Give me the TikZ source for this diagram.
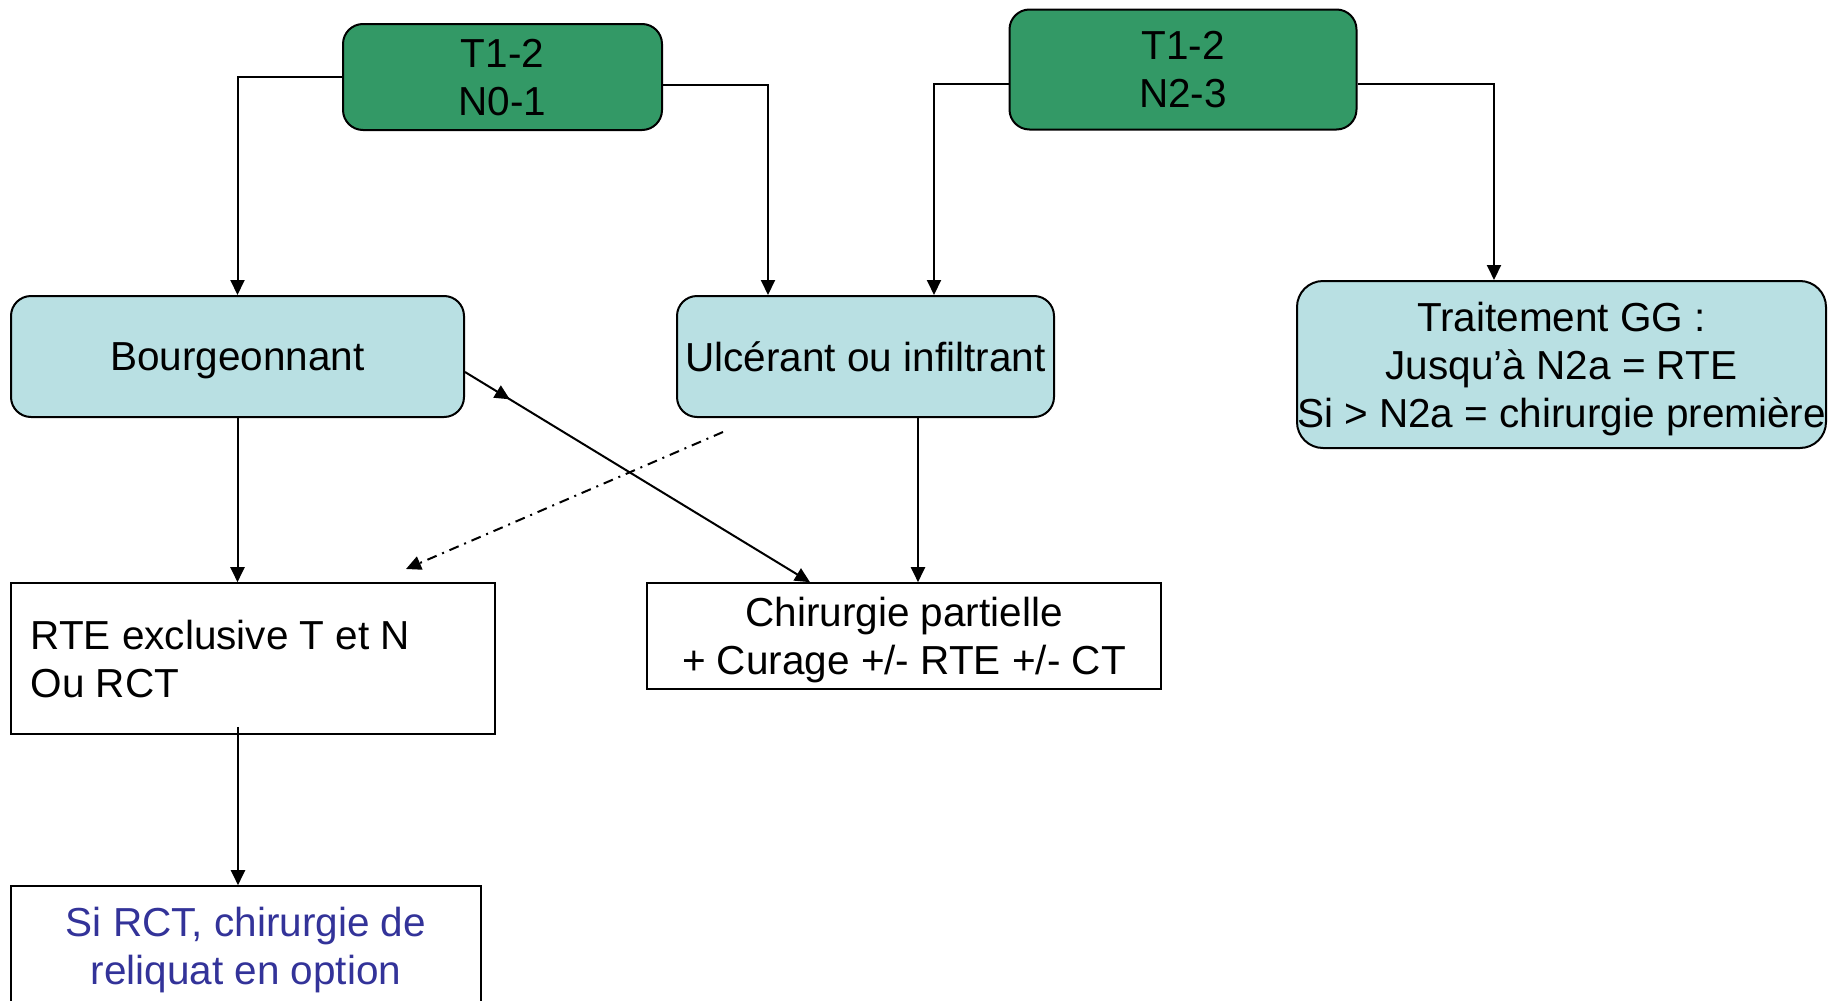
\documentclass[tikz,border=0pt]{standalone}
\usepackage{fontspec}
\setmainfont{Liberation Sans}
\usetikzlibrary{arrows.meta,calc,decorations.markings}
\definecolor{stagegreen}{RGB}{51,153,102}
\definecolor{paleblue}{RGB}{185,224,227}
\definecolor{optblue}{RGB}{51,51,153}
\begin{document}
\begin{tikzpicture}[x=0.5pt,y=-0.5pt,
  every node/.style={font=\fontsize{20.25}{24}\selectfont, inner sep=0pt, align=center, text depth=0pt},
  stage/.style={draw=black, line width=1pt, fill=stagegreen, rounded corners=10pt},
  kind/.style={draw=black, line width=1pt, fill=paleblue, rounded corners=10pt},
  plain/.style={draw=black, line width=0.8pt, fill=white},
  tip/.style={-{Triangle[length=7.5pt,width=7pt]}},
  link/.style={line width=1pt, tip},
  option/.style={line width=1pt, dash pattern=on 5pt off 3pt on 1pt off 3pt, tip}
]
\useasboundingbox (0,0) rectangle (1837,1001);

% boxes
\node[stage, minimum width=159.5pt, minimum height=53pt] (g1) at (502.5,77) {T1-2\\N0-1};
\node[stage, minimum width=173.5pt, minimum height=60pt] (g2) at (1183,69.5) {T1-2\\N2-3};
\node[kind, minimum width=226.5pt, minimum height=60.5pt] (bourg) at (237.5,356.5) {Bourgeonnant};
\node[kind, minimum width=188.5pt, minimum height=60.5pt] (ulc) at (865.5,356.5) {Ulcérant ou infiltrant};
\node[kind, rounded corners=13pt, minimum width=264.5pt, minimum height=83.5pt] (gg) at (1561.5,364.5)
  {Traitement GG :\\Jusqu’à N2a = RTE\\Si > N2a = chirurgie première};
\node[plain, minimum width=242pt, minimum height=75.5pt] (rte) at (253,658.5) {};
\node[align=left, anchor=west] (rtetext) at ($(rte.west)+(20,0)$) {RTE exclusive T et N\\Ou RCT};
\node[plain, minimum width=257pt, minimum height=53pt] (chir) at (904,636)
  {Chirurgie partielle\\+ Curage +/- RTE +/- CT};
\node[plain, minimum width=235pt, minimum height=60pt, text=optblue] (opt) at (246,946)
  {Si RCT, chirurgie de\\reliquat en option};

% helper points
\coordinate (ulcdrop) at ($(ulc.south)+(52.5,0)$);
\coordinate (rtedrop) at ($(rte.south)+(-15,-8)$);
\coordinate (dfrom) at (723,432);
\coordinate (dto) at (406,569);

% connectors
\draw[link] (g1.west) -| (bourg.north);
\draw[link] ($(g1.east)+(0,8)$) -| ($(ulc.north)+(-97.5,0)$);
\draw[link] ($(g2.west)+(0,14.5)$) -| ($(ulc.north)+(68.5,0)$);
\draw[link] ($(g2.east)+(0,14.5)$) -| ($(gg.north)+(-67.5,0)$);
\draw[link] (bourg.south) -- (bourg.south |- rte.north);
\draw[link, postaction=decorate,
  decoration={markings, mark=at position 0.13 with {\arrow{Triangle[length=7.5pt,width=7pt]}}}]
  ($(bourg.east)+(0,15.5)$) -- ($(chir.north)+(-94,0)$);
\draw[link] (ulcdrop) -- (ulcdrop |- chir.north);
\draw[option] (dfrom) -- (dto);
\draw[link] (rtedrop) -- (rtedrop |- opt.north);
\end{tikzpicture}
\end{document}
